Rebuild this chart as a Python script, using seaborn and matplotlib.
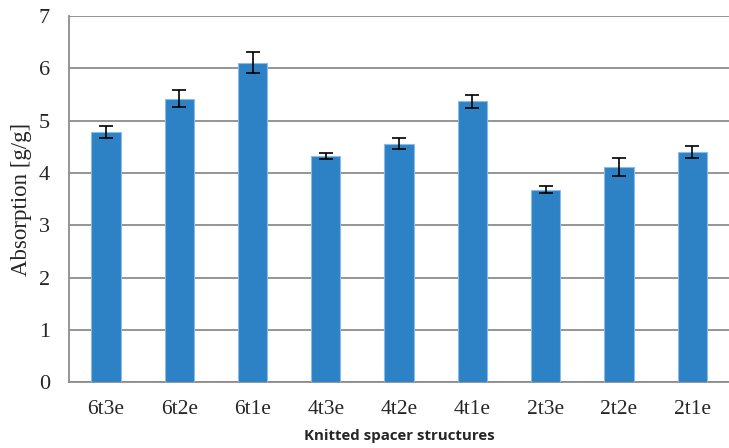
import matplotlib
matplotlib.use("Agg")
import matplotlib.pyplot as plt
from matplotlib.ticker import FixedLocator
import seaborn as sns
import pandas as pd

# Datos
estructuras = ["6t3e", "6t2e", "6t1e", "4t3e", "4t2e", "4t1e", "2t3e", "2t2e", "2t1e"]
absorcion = [4.78, 5.42, 6.11, 4.33, 4.56, 5.37, 3.68, 4.12, 4.40]
error = [0.12, 0.16, 0.20, 0.06, 0.11, 0.12, 0.07, 0.17, 0.11]

df = pd.DataFrame({"Estructura": estructuras, "Absorcion": absorcion, "Error": error})

sns.set_style("white")
plt.rcParams["font.family"] = ["Liberation Serif", "DejaVu Serif"]

fig = plt.figure(figsize=(7.29, 4.48), dpi=100)
ax = fig.add_axes([0.095, 0.147, 0.905, 0.817])

sns.barplot(data=df, x="Estructura", y="Absorcion", color="#2c82c5", saturation=1,
            width=0.4, edgecolor="#8bbbe6", linewidth=0.8, errorbar=None, ax=ax, zorder=3)
ax.errorbar(range(len(estructuras)), df["Absorcion"], yerr=df["Error"], fmt="none",
            ecolor="black", elinewidth=1.2, capsize=5, capthick=1.2, zorder=4)

ax.set_ylim(0, 7)
ax.set_xlim(-0.5, len(estructuras) - 0.5)
ax.set_yticks(range(0, 8))
ax.yaxis.grid(True, color="#8c8c8c", linewidth=1.3, zorder=0)
ax.set_axisbelow(True)

for lado in ["top", "right"]:
    ax.spines[lado].set_visible(False)
ax.spines["left"].set_color("#8c8c8c")
ax.spines["left"].set_linewidth(1.3)
ax.spines["bottom"].set_color("#8c8c8c")
ax.spines["bottom"].set_linewidth(1.3)

ax.xaxis.set_minor_locator(FixedLocator([i - 0.5 for i in range(len(estructuras) + 1)]))
ax.tick_params(axis="x", which="major", length=3, width=1.3, color="#8c8c8c",
               labelsize=15.5, pad=10)
ax.tick_params(axis="x", which="minor", length=6, width=1.3, color="#8c8c8c")
ax.tick_params(axis="y", length=0, labelsize=16, pad=14)

ax.set_ylabel("Absorption [g/g]", fontsize=16.5, labelpad=5)
ax.set_xlabel("Knitted spacer structures", fontsize=10.8, fontweight="bold",
              family=["Open Sans", "DejaVu Sans"], labelpad=7)

fig.savefig("out.png", dpi=100)
